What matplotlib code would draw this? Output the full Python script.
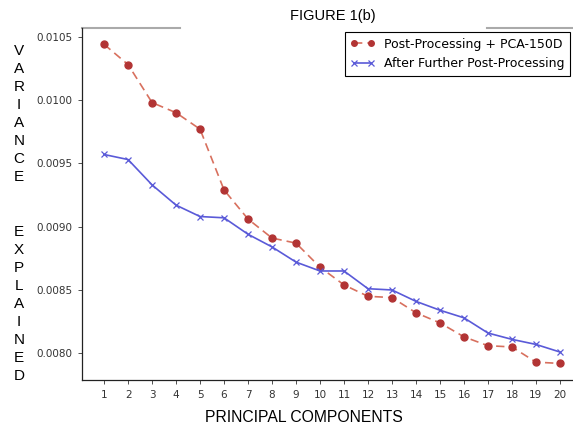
import numpy as np
import matplotlib
matplotlib.use("Agg")
import matplotlib.pyplot as plt

####################################
#               Data               #
####################################

components = list(range(1, 21))
pca_150d = [0.01044, 0.01028, 0.00998, 0.00990, 0.00977, 0.00929, 0.00906, 0.00891,
            0.00887, 0.00868, 0.00854, 0.00845, 0.00844, 0.00832, 0.00824, 0.00813,
            0.00806, 0.00805, 0.00793, 0.00792]
further_pp = [0.00957, 0.00953, 0.00933, 0.00917, 0.00908, 0.00907, 0.00894, 0.00884,
              0.00872, 0.00865, 0.00865, 0.00851, 0.00850, 0.00841, 0.00834, 0.00828,
              0.00816, 0.00811, 0.00807, 0.00801]
yticks = [0.0080, 0.0085, 0.0090, 0.0095, 0.0100, 0.0105]
labels = ["Post-Processing + PCA-150D", "After Further Post-Processing"]

####################################
#               Plot               #
####################################

W, H = 573, 425
fig = plt.figure(figsize=(W / 100, H / 100), dpi=100, facecolor='w')
ax = fig.add_axes([82 / W, 45 / H, 500 / W, 352 / H])

ax.plot(components, pca_150d, color='#d8705e', linestyle='--', dashes=(5, 3), linewidth=1.2,
        marker='o', markersize=5, markerfacecolor='#b23434', markeredgecolor='#b23434',
        label=labels[0])
ax.plot(components, further_pp, color='#5a5ad8', linestyle='-', linewidth=1.2,
        marker='x', markersize=5, markeredgewidth=0.9, label=labels[1])

ax.set_xlim(0.08, 20.92)
ax.set_ylim(0.007789, 0.010569)
ax.set_xticks(components)
ax.set_yticks(yticks)
ax.set_yticklabels(['{:.4f}'.format(v) for v in yticks])
ax.tick_params(labelsize=7.5, length=3, width=0.6, colors='#333333', pad=4)

ax.spines['top'].set_visible(False)
ax.spines['right'].set_visible(False)
for s in ['left', 'bottom']:
    ax.spines[s].set_color('#222222')
    ax.spines[s].set_linewidth(0.9)
# broken gray top border
for x0, x1 in [(0, 0.196), (0.81, 1.0)]:
    ax.plot([x0, x1], [1, 1], color='#aaaaaa', linewidth=1.5, transform=ax.transAxes, clip_on=False)

leg = ax.legend(loc='upper right', bbox_to_anchor=(570 / W, 1 - 32 / H), bbox_transform=fig.transFigure,
                prop={'size': 9}, frameon=True, fancybox=False, edgecolor='black', framealpha=1,
                numpoints=2, markerscale=0.8, handlelength=2, handletextpad=0.7,
                borderpad=0.45, labelspacing=0.55, borderaxespad=0)
leg.get_frame().set_linewidth(0.8)

fig.text(333 / W, 1 - 16 / H, 'FIGURE 1(b)', family='Liberation Sans', fontsize=10.5,
         ha='center', va='center')
fig.text(304 / W, 1 - 418 / H, 'PRINCIPAL COMPONENTS', family='Liberation Sans', fontsize=11.3,
         ha='center', va='center')

ylab = "VARIANCE  EXPLAINED"
for i, ch in enumerate(ylab):
    if ch != ' ':
        fig.text(19 / W, 1 - (51 + i * 18.05) / H, ch, family='Liberation Sans', fontsize=11,
                 ha='center', va='center')

plt.savefig('out.png', dpi=100)
